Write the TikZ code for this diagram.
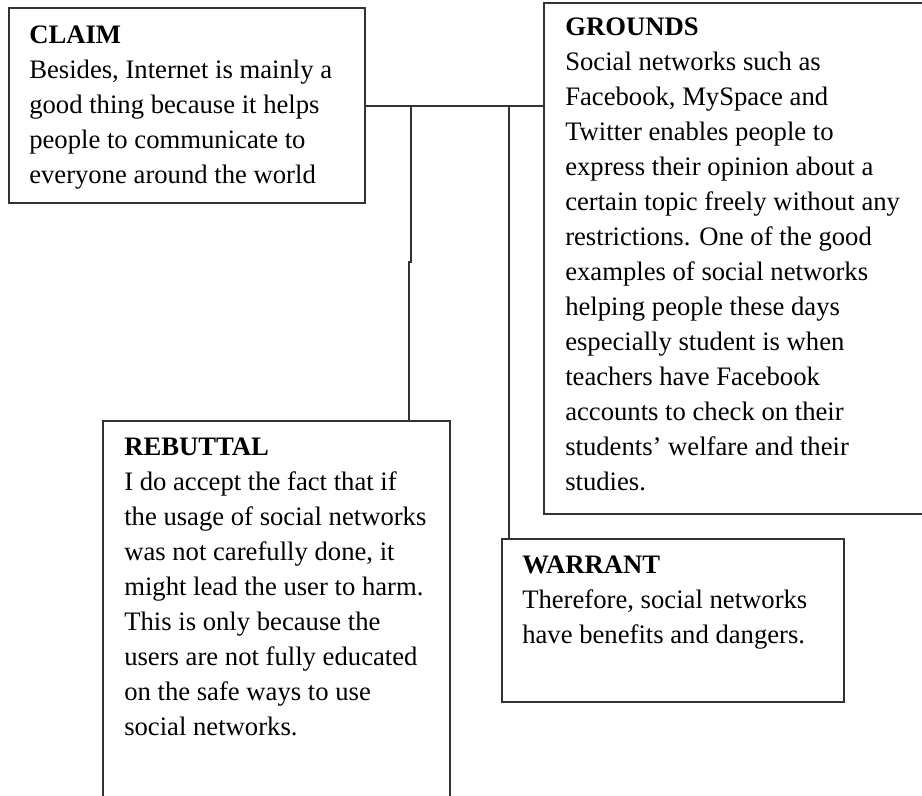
\documentclass[tikz,border=0pt]{standalone}
\usepackage{fontspec}
\setmainfont{Liberation Serif}
\usetikzlibrary{fit}
\definecolor{ln}{HTML}{333333}
\begin{document}
\begin{tikzpicture}[x=0.75pt,y=-0.75pt,
  box/.style={draw=ln,line width=1.5pt,inner sep=0pt,rectangle},
  conn/.style={draw=ln,line width=1.5pt},
  txt/.style={anchor=base west,inner sep=0pt,font=\fontsize{20}{26.25}\selectfont}]
\clip (0,0) rectangle (922,796);
\node[box,fit={(9,8)(365,203)}] (claim) {};
\node[box,fit={(544,3)(935,514)}] (grounds) {};
\node[box,fit={(103,421)(450,810)}] (rebuttal) {};
\node[box,fit={(502,539)(844,702)}] (warrant) {};
\coordinate (jr) at (411,105.5);
\coordinate (jw) at (509,105.5);
\draw[conn] (claim.east) -- (claim.east -| grounds.west);
\draw[conn] (jr) -- (411,262) -- (409,262) -- (409,0 |- rebuttal.north);
\draw[conn] (jw) -- (jw |- warrant.north);
\node[txt] (claimtxt) at (29,43) {\parbox[t]{320pt}{\noindent\raggedright\textbf{CLAIM}\\
Besides, Internet is mainly a\\
good thing because it helps\\
people to communicate to\\
everyone around the world}};
\node[txt] (groundstxt) at (565,36) {\parbox[t]{320pt}{\noindent\raggedright\textbf{GROUNDS}\\
Social networks such as\\
Facebook, MySpace and\\
Twitter enables people to\\
express their opinion about a\\
certain topic freely without any\\
restrictions. One of the good\\
examples of social networks\\
helping people these days\\
especially student is when\\
teachers have Facebook\\
accounts to check on their\\
students’ welfare and their\\
studies.}};
\node[txt] (rebuttaltxt) at (124,455) {\parbox[t]{320pt}{\noindent\raggedright\textbf{REBUTTAL}\\
I do accept the fact that if\\
the usage of social networks\\
was not carefully done, it\\
might lead the user to harm.\\
This is only because the\\
users are not fully educated\\
on the safe ways to use\\
social networks.}};
\node[txt] (warranttxt) at (522,573) {\parbox[t]{320pt}{\noindent\raggedright\textbf{WARRANT}\\
Therefore, social networks\\
have benefits and dangers.}};
\end{tikzpicture}
\end{document}
